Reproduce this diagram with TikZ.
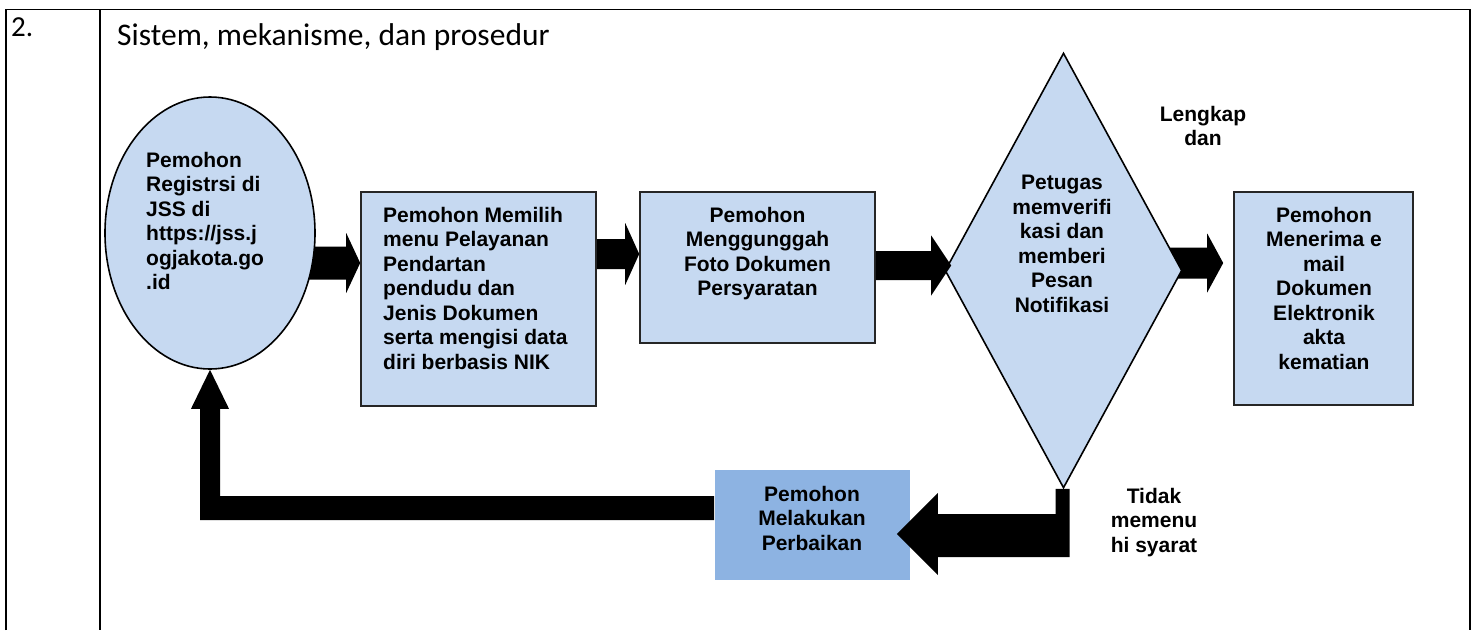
\documentclass[tikz,border=0pt]{standalone}
\usepackage{fontspec}
\newfontfamily\flowfont{Liberation Sans}
\newfontfamily\cellfont{Carlito}
\usepackage{tikz}
\usetikzlibrary{shapes.geometric,calc,backgrounds}

\definecolor{boxblue}{RGB}{198,217,241}
\definecolor{fixblue}{RGB}{141,179,226}

\tikzset{
  flow/.style={draw=black!85, line width=1.6pt, fill=boxblue, inner sep=0pt},
  lbl/.style={font=\flowfont\bfseries\fontsize{21}{24.5}\selectfont, inner sep=0pt},
  cell/.style={line width=1.5pt},
}

% fat right arrow: start, tip, half shaft, half head, head length
\newcommand{\rblock}[5]{%
  \fill let \p1=(#1), \p2=(#2) in
    (\x1,\y2+#3) -- (\x2-#5,\y2+#3) -- (\x2-#5,\y2+#4) -- (\p2)
    -- (\x2-#5,\y2-#4) -- (\x2-#5,\y2-#3) -- (\x1,\y2-#3) -- cycle;}

\begin{document}
\begin{tikzpicture}[x=1pt,y=-1pt]
  \useasboundingbox (0,0) rectangle (1475,630);

  % table cell
  \draw[cell] (6,630) -- (6,9.5) -- (1470,9.5) -- (1470,630);
  \draw[cell] (100,9.5) -- (100,630);
  \node[anchor=base west, inner sep=0pt, font=\cellfont\fontsize{29}{34}\selectfont] (num) at (11,36) {2.};
  \node[anchor=base west, inner sep=0pt, font=\cellfont\fontsize{31.5}{36}\selectfont] (title) at (117,45) {Sistem, mekanisme, dan prosedur};

  % steps
  \node[flow, ellipse, draw=black, minimum width=210pt, minimum height=272pt] (reg) at (210,233) {};
  \node[lbl, align=left, anchor=north west] (reg-t) at (146,152)
    {Pemohon\\Registrsi di\\JSS di\\https://jss.j\\ogjakota.go\\.id};

  \node[flow, minimum width=235pt, minimum height=214pt] (menu) at (478.5,299) {};
  \node[lbl, align=left, anchor=north west] (menu-t) at (383,207)
    {Pemohon Memilih\\menu Pelayanan\\Pendartan\\pendudu dan\\Jenis Dokumen\\serta mengisi data\\diri berbasis NIK};

  \node[flow, minimum width=235pt, minimum height=151pt] (doc) at (757.5,267.5) {};
  \node[lbl, align=center, anchor=north] (doc-t) at (757.5,207)
    {Pemohon\\Menggunggah\\Foto Dokumen\\Persyaratan};

  \node[flow, diamond, draw=black, minimum width=237pt, minimum height=435pt] (verif) at (1063.5,270.5) {};
  \node[lbl, align=center, anchor=north] (verif-t) at (1062,175)
    {Petugas\\memverifi\\kasi dan\\memberi\\Pesan\\Notifikasi};

  \node[flow, minimum width=179pt, minimum height=213pt] (mail) at (1323.5,298.5) {};
  \node[lbl, align=center, anchor=north] (mail-t) at (1324,207)
    {Pemohon\\Menerima e\\mail\\Dokumen\\Elektronik\\akta\\kematian};

  \node[flow, draw=none, fill=fixblue, minimum width=195pt, minimum height=110pt] (fix) at (812.5,525) {};
  \node[lbl, align=center, anchor=north] (fix-t) at (812,486)
    {Pemohon\\Melakukan\\Perbaikan};

  % branch labels
  \node[lbl, align=center, anchor=north] (lengkap) at (1203,106) {Lengkap\\dan};
  \node[lbl, align=center, anchor=north] (tidak) at (1154,488) {Tidak\\memenu\\hi syarat};

  % arrows
  \begin{pgfonlayer}{background}
    \rblock{reg.center}{[yshift=36pt]menu.west}{16.5pt}{30pt}{14pt}
    \rblock{menu.center}{[yshift=13.5pt]doc.west}{15pt}{31pt}{14pt}
    \rblock{verif.center}{[xshift=-10pt,yshift=35.5pt]mail.west}{15.5pt}{29.5pt}{16pt}
  \end{pgfonlayer}
  \rblock{doc.east}{[xshift=7pt,yshift=5pt]verif.west}{14.5pt}{30pt}{20pt}

  % not complete: down and back to the left
  \fill let \p1=(verif.south), \p2=([xshift=-14pt,yshift=-9pt]fix.east) in
    (\x1-8pt,\y1) -- (\x1+6pt,\y1) -- (\x1+6pt,\y2-23pt) -- (\x2+41pt,\y2-23pt)
    -- (\x2+41pt,\y2-41pt) -- (\p2) -- (\x2+41pt,\y2+41pt) -- (\x2+41pt,\y2+20pt)
    -- (\x1-8pt,\y2+20pt) -- cycle;

  % back to the start
  \fill let \p1=(fix.west), \p2=(reg.south) in
    (\x1,\y1+29pt) -- (\x2+10pt,\y1+29pt) -- (\x2+10pt,\y2-39pt) -- (\x2+19pt,\y2-39pt)
    -- (\p2) -- (\x2-19pt,\y2-39pt) -- (\x2-10pt,\y2-39pt) -- (\x2-10pt,\y1+5pt)
    -- (\x1,\y1+5pt) -- cycle;
\end{tikzpicture}
\end{document}
